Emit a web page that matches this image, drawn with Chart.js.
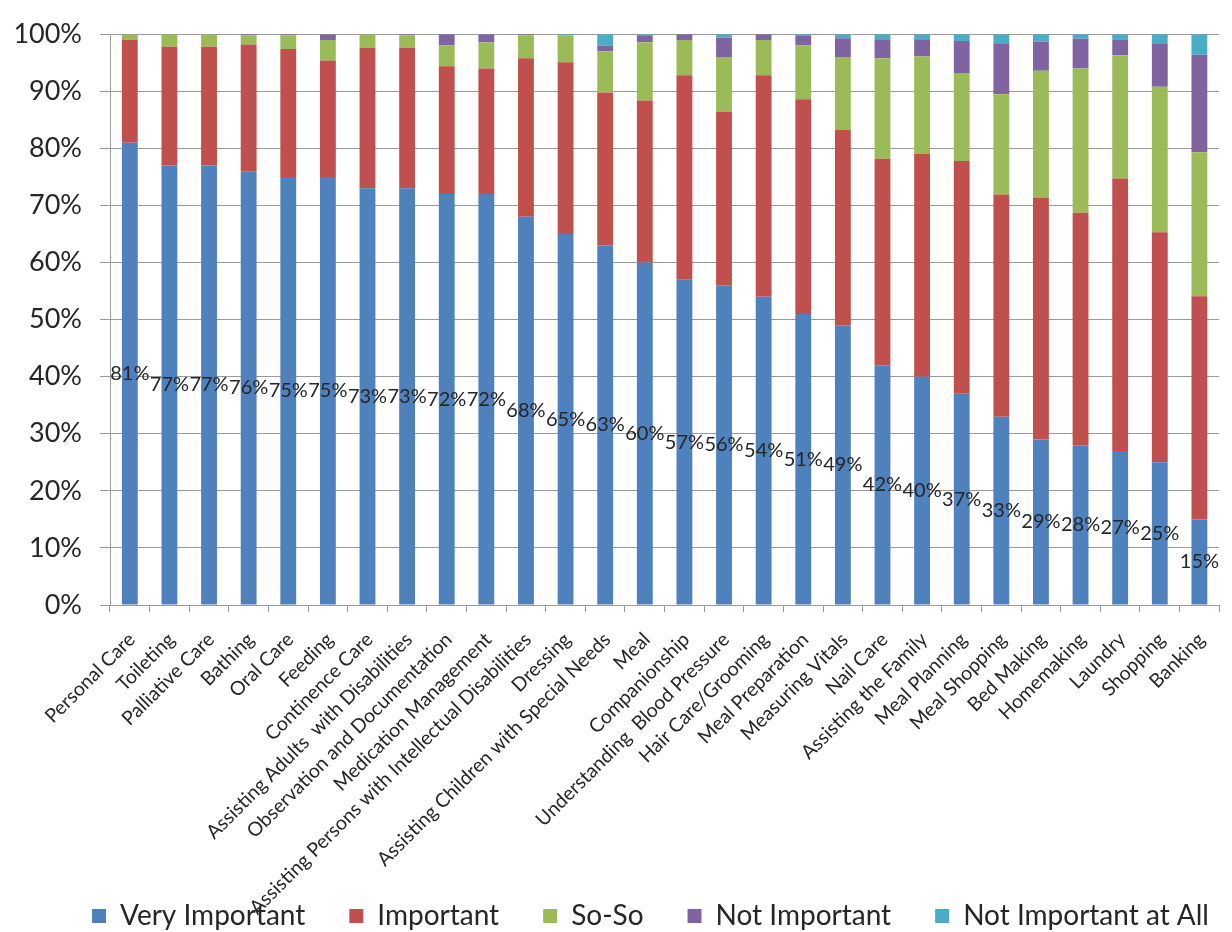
<!DOCTYPE html>
<html>
<head>
<meta charset="utf-8">
<title>Importance of care tasks</title>
<script src="https://cdn.jsdelivr.net/npm/chart.js@4/dist/chart.umd.min.js"></script>
<style>
  html, body { margin: 0; padding: 0; background: #ffffff; }
  #wrap { width: 1232px; height: 932px; position: relative; }
</style>
</head>
<body>
<div id="wrap"><canvas id="chart" width="1232" height="932"></canvas></div>
<script>
// Care tasks, ordered by share of "Very Important" answers
const categories = [
  'Personal Care', 'Toileting', 'Palliative Care', 'Bathing', 'Oral Care', 'Feeding',
  'Continence Care', 'Assisting Adults  with Disabilities', 'Observation and Documentation',
  'Medication Management', 'Assisting Persons with Intellectual Disabilities', 'Dressing',
  'Assisting Children with Special Needs', 'Meal', 'Companionship',
  'Understanding  Blood Pressure', 'Hair Care/Grooming', 'Meal Preparation',
  'Measuring Vitals', 'Nail Care', 'Assisting the Family', 'Meal Planning',
  'Meal Shopping', 'Bed Making', 'Homemaking', 'Laundry', 'Shopping', 'Banking'
];

// Percent of respondents per rating (each column adds up to 100)
const veryImportant = [81, 77, 77, 76, 75, 75, 73, 73, 72, 72, 68, 65, 63, 60, 57, 56, 54, 51, 49, 42, 40, 37, 33, 29, 28, 27, 25, 15];
const important     = [18.0, 20.8, 20.8, 22.2, 22.4, 20.4, 24.6, 24.6, 22.4, 22.0, 27.8, 30.1, 26.8, 28.4, 35.8, 30.4, 38.8, 37.6, 34.2, 36.2, 39.0, 40.8, 38.9, 42.4, 40.7, 47.7, 40.3, 39.1];
const soSo          = [1.0, 2.2, 2.2, 1.6, 2.4, 3.6, 2.4, 2.2, 3.6, 4.6, 4.0, 4.7, 7.2, 10.2, 6.2, 9.6, 6.2, 9.4, 12.8, 17.6, 17.1, 15.4, 17.6, 22.2, 25.3, 21.6, 25.5, 25.2];
const notImportant  = [0, 0, 0, 0.2, 0.2, 1.0, 0, 0.2, 2.0, 1.4, 0.2, 0, 1.0, 1.2, 1.0, 3.4, 1.0, 1.7, 3.3, 3.3, 3.0, 5.6, 8.9, 5.1, 5.2, 2.7, 7.6, 17.1];
const notAtAll      = [0, 0, 0, 0, 0, 0, 0, 0, 0, 0, 0, 0.2, 2.0, 0.2, 0, 0.6, 0, 0.3, 0.7, 0.9, 0.9, 1.2, 1.6, 1.3, 0.8, 1.0, 1.6, 3.6];

const seriesNames = ['Very Important', 'Important', 'So-So', 'Not Important', 'Not Important at All'];
const seriesColors = ['#4F81BD', '#C0504D', '#9BBB59', '#8064A2', '#4BACC6'];
const seriesValues = [veryImportant, important, soSo, notImportant, notAtAll];

// Y axis tick values (percent)
const yTicks = [0, 10, 20, 30, 40, 50, 60, 70, 80, 90, 100];

const TEXT = '#262626';
const GRID = '#9a9a9a';
const FONT = 'Lato, "Open Sans", sans-serif';
Chart.defaults.font.family = FONT;
Chart.defaults.color = TEXT;

// Writes the "Very Important" percentage in the middle of each blue segment
const segmentLabels = {
  id: 'segmentLabels',
  afterDatasetsDraw(chart) {
    const meta = chart.getDatasetMeta(0);
    const data = chart.data.datasets[0].data;
    const ctx = chart.ctx;
    ctx.save();
    ctx.font = '20px ' + FONT;
    ctx.fillStyle = TEXT;
    ctx.textAlign = 'center';
    ctx.textBaseline = 'middle';
    meta.data.forEach((bar, i) => {
      const p = bar.getProps(['x', 'y', 'base'], true);
      ctx.fillText(Math.round(data[i]) + '%', p.x, (p.y + p.base) / 2);
    });
    ctx.restore();
  }
};

// Centres the legend row under the plot area, and lets the long slanted
// category names run down past the axis box instead of being cut off
const layoutTweaks = {
  id: 'layoutTweaks',
  afterLayout(chart) {
    const lg = chart.legend;
    if (lg) {
      lg.left += 36;
      lg.right += 36;
    }
    const x = chart.scales.x;
    if (x) x.bottom = chart.height;
  }
};

new Chart(document.getElementById('chart'), {
  type: 'bar',
  data: {
    labels: categories,
    datasets: seriesNames.map((name, k) => ({
      label: name,
      data: seriesValues[k],
      backgroundColor: seriesColors[k],
      borderWidth: 0,
      categoryPercentage: 1.0,
      barPercentage: 0.4
    }))
  },
  options: {
    responsive: false,
    animation: false,
    layout: { padding: { top: 25, right: 3, left: 0, bottom: 0 } },
    plugins: {
      legend: {
        position: 'bottom',
        maxHeight: 74,
        labels: {
          boxWidth: 14,
          boxHeight: 14,
          padding: 44,
          color: TEXT,
          font: { size: 28 }
        }
      },
      tooltip: { enabled: false }
    },
    scales: {
      x: {
        stacked: true,
        grid: {
          offset: true,
          drawOnChartArea: false,
          drawTicks: true,
          tickLength: 7,
          color: GRID
        },
        border: { color: GRID, width: 1 },
        ticks: {
          autoSkip: false,
          maxRotation: 45,
          minRotation: 45,
          padding: 16,
          labelOffset: 2,
          color: TEXT,
          font: { size: 19.5 }
        },
        afterFit(scale) { scale.height = 253; }
      },
      y: {
        stacked: true,
        min: 0,
        max: 100,
        afterBuildTicks(scale) { scale.ticks = yTicks.map(v => ({ value: v })); },
        grid: { color: GRID, tickLength: 10, drawTicks: true },
        border: { color: GRID, width: 1 },
        ticks: {
          padding: 18,
          color: TEXT,
          font: { size: 27 },
          callback: v => v + '%'
        },
        afterFit(scale) { scale.width = 110; }
      }
    }
  },
  plugins: [segmentLabels, layoutTweaks]
});
</script>
</body>
</html>
